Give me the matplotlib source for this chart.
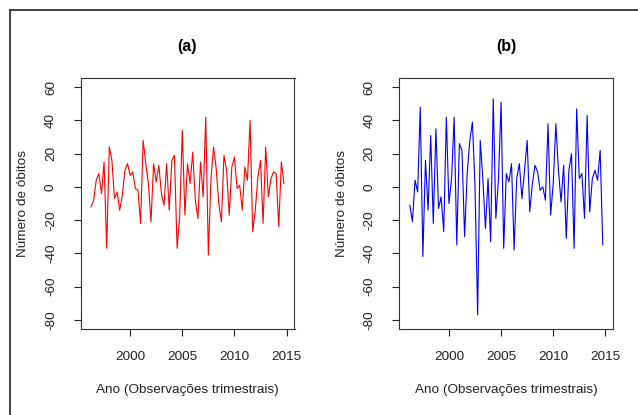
import numpy as np
import matplotlib
matplotlib.use('Agg')
import matplotlib.pyplot as plt
from matplotlib.lines import Line2D

# series trimestrais (inicio 1996 T2)
inicio = 1996.25
serie_a = [-12, -8, 4, 8, -4, 15, -37, 24, 16, -7,
           -3, -14, -5, 10, 14, 7, 9, -1, -2, -22,
           28, 14, 2, -21, 14, 3, 13, -4, -11, 14,
           -14, 16, 19, -37, -18, 34, -17, 14, 2, 21,
           -8, -19, 15, -6, 42, -41, 5, 24, 11, -10,
           -21, 19, 10, -17, 12, 18, -1, 1, -14, 12,
           4, 40, -27, -14, 6, 16, -22, 24, -6, 5,
           9, 8, -24, 15, 2]
serie_b = [-11, -21, 4, -3, 48, -42, 16, -14, 31, -22,
           35, -13, -6, -27, 42, -10, 5, 42, -35, 26,
           22, -30, 8, 28, 39, 0, -77, 28, 5, -25,
           5, -33, 53, -19, 5, 51, -37, 8, 3, 14,
           -38, 5, 14, -7, 10, 28, -15, 2, 13, 9,
           -2, 0, -8, 38, -17, 2, 38, 10, -9, 13,
           -31, 10, 20, -37, 47, 5, 8, -19, 43, -15,
           5, 10, 4, 22, -35]
ticks_x = [2000, 2005, 2010, 2015]
ticks_y = [-80, -60, -40, -20, 0, 20, 40, 60]
titulos = ['(a)', '(b)']
cores = ['#ff0000', '#0000ff']
xlab = 'Ano (Observações trimestrais)'
ylab = 'Número de óbitos'

plt.rcParams['font.family'] = ['Liberation Sans', 'DejaVu Sans']

W, H = 638, 415
fig = plt.figure(figsize=(W / 100, H / 100), dpi=100)
fig.patch.set_facecolor('white')

# moldura externa (so esquerda e topo)
fig.add_artist(Line2D([10 / W, 10 / W], [0, 1 - 10 / H], transform=fig.transFigure,
                      color='#222222', lw=1.2))
fig.add_artist(Line2D([10 / W, 1], [1 - 10 / H, 1 - 10 / H], transform=fig.transFigure,
                      color='#222222', lw=1.2))

box_top, box_bot = 78, 329
lefts = [80.5, 399.3]
box_w = 214

tempo = inicio + 0.25 * np.arange(len(serie_a))

for k, serie in enumerate([serie_a, serie_b]):
    l = lefts[k]
    ax = fig.add_axes([l / W, 1 - box_bot / H, box_w / W, (box_bot - box_top) / H])
    ax.plot(tempo, serie, color=cores[k], lw=0.8)
    ax.set_xlim(1995.24, 2015.76)
    ax.set_ylim(-85.6, 65.6)
    ax.set_xticks(ticks_x)
    ax.set_yticks(ticks_y)
    ax.set_xticklabels([str(t) for t in ticks_x], fontsize=9.7, color='#222222')
    ax.set_yticklabels([str(t) for t in ticks_y], fontsize=9.7, rotation=90, va='center',
                       color='#222222')
    ax.tick_params(axis='x', length=5, width=0.8, pad=10.5, color='#222222')
    ax.tick_params(axis='y', length=5, width=0.8, pad=12, color='#222222')
    for s in ax.spines.values():
        s.set_linewidth(0.8)
        s.set_color('#333333')

    cx = l + box_w / 2
    fig.text(cx / W, 1 - 46 / H, titulos[k], fontsize=11.5, fontweight='bold',
             ha='center', va='center')
    fig.text(cx / W, 1 - 390 / H, xlab, fontsize=9.7, ha='center', va='center',
             color='#222222')
    fig.text((l - 57) / W, 1 - (box_top + box_bot) / 2 / H, ylab, fontsize=9.7,
             rotation=90, ha='center', va='center', color='#222222')

fig.savefig('out.png', dpi=100)
